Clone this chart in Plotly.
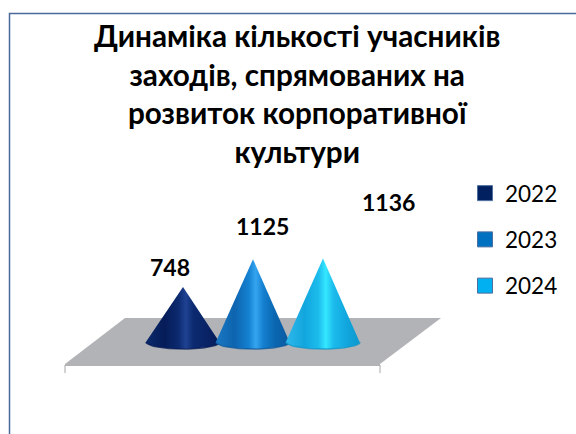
import numpy as np
import plotly.graph_objects as go

years = ["2022", "2023", "2024"]
values = [748, 1125, 1136]
legend_colors = ["#002060", "#0070C0", "#00B0F0"]
gradients = [
    ["#0B2A6B", "#051C58", "#0C2A70", "#1F4293", "#0C2A70", "#0A2468", "#061C58"],
    ["#1A78C4", "#0E64AE", "#1480D0", "#35A5F0", "#1480D0", "#0A66B0", "#0A5AA0"],
    ["#2FB8EA", "#12A6DE", "#1CBCEC", "#35E8FF", "#1CBCEC", "#12A8E0", "#0C98CC"],
]
title_text = "Динаміка кількості учасників<br>заходів, спрямованих на<br>розвиток корпоративної<br>культури"

W, H = 576, 434
font = "Lato, 'Noto Sans', sans-serif"
PX_X, PX_Y = 70.0, 0.0735          # px per category / px per value unit
X0, Y0 = 183.0, 342.0              # pixel of first category, zero value
RX, RY = 0.53, 7.0 / PX_Y          # cone base radii in axis units


def ax(px):
    return (px - X0) / PX_X


def ay(py):
    return (Y0 - py) / PX_Y


fig = go.Figure()

# floor
fig.add_trace(go.Scatter(
    x=[ax(65), ax(380), ax(441), ax(125), ax(65)],
    y=[ay(364), ay(364), ay(318), ay(318), ay(364)],
    mode="lines", fill="toself", fillcolor="#B2B3B6",
    line=dict(color="#B2B3B6", width=0), hoverinfo="skip", showlegend=False))
fig.add_trace(go.Scatter(
    x=[ax(65), ax(380)], y=[ay(365), ay(365)], mode="lines",
    line=dict(color="#9A9A9C", width=1.6), hoverinfo="skip", showlegend=False))
for px in (65, 380):
    fig.add_trace(go.Scatter(
        x=[ax(px), ax(px)], y=[ay(365), ay(373)], mode="lines",
        line=dict(color="#A6A6A6", width=1), hoverinfo="skip", showlegend=False))

# cones
theta = np.linspace(0, np.pi, 60)
for i, (v, grad) in enumerate(zip(values, gradients)):
    ex = i + RX * np.cos(theta)
    ey = -RY * np.sin(theta)
    xs = np.concatenate(([i], ex, [i]))
    ys = np.concatenate(([v], ey, [v]))
    stops = [0, 0.25, 0.44, 0.54, 0.64, 0.8, 1]
    fig.add_trace(go.Scatter(
        x=xs, y=ys, mode="lines", fill="toself",
        line=dict(width=0, color=grad[0]),
        fillgradient=dict(type="horizontal",
                          colorscale=[[s, c] for s, c in zip(stops, grad)]),
        hoverinfo="skip", showlegend=False))
    fig.add_trace(go.Scatter(
        x=ex, y=ey, mode="lines",
        line=dict(width=1.5, color=grad[-1]), opacity=0.75,
        hoverinfo="skip", showlegend=False))

# legend
for i, (y, c) in enumerate(zip(years, legend_colors)):
    fig.add_trace(go.Scatter(
        x=[None], y=[None], mode="markers", name=y, legendgroup=y,
        marker=dict(symbol="square", size=15, color=c,
                    line=dict(color="#4F6F9F", width=1))))

# value labels
label_px = [(170, 267), (262, 226), (388, 202)]
for v, (lx, ly) in zip(values, label_px):
    fig.add_annotation(x=lx / W, y=1 - ly / H, xref="paper", yref="paper",
                       xanchor="center", yanchor="middle",
                       text=f"<b>{v}</b>", showarrow=False,
                       font=dict(family=font, size=23, color="#000000"))

fig.update_layout(
    width=W, height=H,
    margin=dict(l=0, r=0, t=0, b=0),
    paper_bgcolor="#FFFFFF", plot_bgcolor="rgba(0,0,0,0)",
    xaxis=dict(range=[ax(0), ax(W)], visible=False, fixedrange=True),
    yaxis=dict(range=[ay(H), ay(0)], visible=False, fixedrange=True),
    legend=dict(x=465 / W, y=1 - 172 / H, xanchor="left", yanchor="top",
                font=dict(family=font, size=22.5, color="#000000"),
                tracegroupgap=14, itemwidth=30, bgcolor="rgba(0,0,0,0)"),
    title=None,
    annotations=list(fig.layout.annotations) + [dict(
        x=297 / W, y=1 - 93 / H, xref="paper", yref="paper", showarrow=False,
        xanchor="center", yanchor="middle",
        text=f"<b>{title_text}</b>", align="center",
        font=dict(family=font, size=29.7, color="#000000"))],
    shapes=[dict(type="rect", xref="paper", yref="paper",
                 x0=9.5 / W, x1=1.1, y0=-0.1, y1=1 - 13.5 / H,
                 line=dict(color="#4A6A9C", width=1.5))],
)
fig.write_html(
    "out.html",
    config={"displayModeBar": False},
    post_script="document.body.style.margin='0';document.body.style.overflow='hidden';",
)
